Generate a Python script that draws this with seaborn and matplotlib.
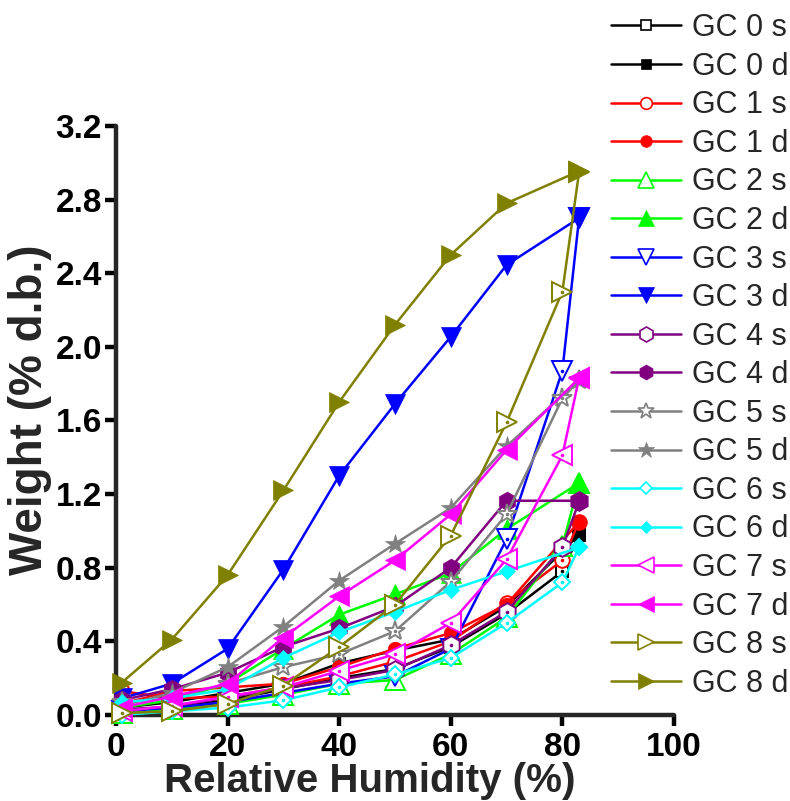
import matplotlib
matplotlib.use("Agg")
import matplotlib.pyplot as plt
import seaborn as sns
import pandas as pd
from matplotlib.lines import Line2D

# Relative humidity steps: sorption runs include an 80 % step, desorption starts at the top
rh_s = [1, 10, 20, 30, 40, 50, 60, 70, 80, 83]
rh_d = [1, 10, 20, 30, 40, 50, 60, 70, 83]

gc0_s = [0.01, 0.04, 0.08, 0.14, 0.20, 0.25, 0.37, 0.55, 0.78, 0.98]
gc0_d = [0.04, 0.07, 0.12, 0.17, 0.28, 0.35, 0.41, 0.59, 0.98]
gc1_s = [0.13, 0.09, 0.10, 0.15, 0.21, 0.29, 0.40, 0.61, 0.84, 1.05]
gc1_d = [0.06, 0.13, 0.15, 0.17, 0.26, 0.36, 0.445, 0.60, 1.05]
gc2_s = [0.01, 0.03, 0.06, 0.11, 0.17, 0.19, 0.33, 0.53, 0.92, 1.26]
gc2_d = [0.04, 0.08, 0.17, 0.36, 0.545, 0.655, 0.77, 1.01, 1.26]
gc3_s = [0.02, 0.04, 0.07, 0.12, 0.17, 0.21, 0.36, 0.955, 1.87, 2.70]
gc3_d = [0.09, 0.17, 0.36, 0.79, 1.30, 1.69, 2.055, 2.445, 2.70]
gc4_s = [0.03, 0.045, 0.095, 0.145, 0.19, 0.245, 0.38, 0.56, 0.91, 1.16]
gc4_d = [0.08, 0.14, 0.23, 0.37, 0.47, 0.59, 0.80, 1.164, 1.164]
gc5_s = [0.07, 0.09, 0.17, 0.26, 0.33, 0.455, 0.725, 1.09, 1.72, 1.82]
gc5_d = [0.05, 0.12, 0.26, 0.48, 0.73, 0.93, 1.125, 1.46, 1.82]
gc6_s = [0.00, 0.02, 0.04, 0.08, 0.15, 0.22, 0.31, 0.50, 0.72, 0.91]
gc6_d = [0.07, 0.09, 0.14, 0.31, 0.45, 0.56, 0.68, 0.78, 0.91]
gc7_s = [0.02, 0.05, 0.10, 0.15, 0.24, 0.33, 0.50, 0.845, 1.41, 1.83]
gc7_d = [0.04, 0.10, 0.17, 0.42, 0.645, 0.84, 1.09, 1.44, 1.83]
gc8_s = [0.01, 0.02, 0.06, 0.16, 0.37, 0.60, 0.975, 1.59, 2.30, 2.95]
gc8_d = [0.175, 0.41, 0.76, 1.22, 1.70, 2.12, 2.50, 2.78, 2.955]

series_names = ["GC 0 s", "GC 0 d", "GC 1 s", "GC 1 d", "GC 2 s", "GC 2 d",
                "GC 3 s", "GC 3 d", "GC 4 s", "GC 4 d", "GC 5 s", "GC 5 d",
                "GC 6 s", "GC 6 d", "GC 7 s", "GC 7 d", "GC 8 s", "GC 8 d"]
series_values = [gc0_s, gc0_d, gc1_s, gc1_d, gc2_s, gc2_d, gc3_s, gc3_d,
                 gc4_s, gc4_d, gc5_s, gc5_d, gc6_s, gc6_d, gc7_s, gc7_d,
                 gc8_s, gc8_d]

x_ticks = [0, 20, 40, 60, 80, 100]
y_ticks = [0.0, 0.4, 0.8, 1.2, 1.6, 2.0, 2.4, 2.8, 3.2]

colors = ["#000000", "#FF0000", "#00FF00", "#0000FF", "#800080",
          "#808080", "#00FFFF", "#FF00FF", "#808000"]
markers = ["s", "o", "^", "v", "h", "*", "D", "<", ">"]
msizes = [9, 10.5, 14, 14, 13.5, 15, 8, 14, 14]

sns.set_theme(style="ticks")
plt.rcParams["font.family"] = ["Liberation Sans", "DejaVu Sans"]

fig = plt.figure(figsize=(7.9, 8.01), dpi=100)
ax = fig.add_axes([0.1468, 0.1074, 0.7063, 0.7353])

frames = []
for name, vals in zip(series_names, series_values):
    xs = rh_s if name.endswith("s") else rh_d
    frames.append(pd.DataFrame({"rh": xs, "w": vals, "series": name}))
df = pd.concat(frames, ignore_index=True)

handles = []
for i, name in enumerate(series_names):
    g = i // 2
    is_open = name.endswith("s")
    c = colors[g]
    sub = df[df["series"] == name]
    sns.lineplot(data=sub, x="rh", y="w", ax=ax, estimator=None, sort=False,
                 color=c, linewidth=1.8, marker=markers[g], markersize=msizes[g],
                 markerfacecolor="white" if is_open else c,
                 markeredgecolor=c, markeredgewidth=1.4 if is_open else 0.5,
                 clip_on=False, zorder=3 + i * 0.01, legend=False)
    if is_open:
        ax.plot(sub["rh"], sub["w"], linestyle="none", marker="o",
                markersize=1.6, color=c, clip_on=False, zorder=3 + i * 0.01)
    handles.append(Line2D([], [], color=c, linewidth=1.8, marker=markers[g],
                          markersize=msizes[g] * 0.8,
                          markerfacecolor="white" if is_open else c,
                          markeredgecolor=c,
                          markeredgewidth=1.2 if is_open else 0.5))

ax.set_xlim(0, 100)
ax.set_ylim(0, 3.2)
ax.set_xticks(x_ticks)
ax.set_xticklabels([str(t) for t in x_ticks])
ax.set_yticks(y_ticks)
ax.set_yticklabels([f"{t:.1f}" for t in y_ticks])
for s in ["top", "right"]:
    ax.spines[s].set_visible(False)
for s in ["left", "bottom"]:
    ax.spines[s].set_linewidth(3.2)
    ax.spines[s].set_capstyle("round")
ax.tick_params(axis="both", direction="out", length=8, width=3.2,
               labelsize=24, colors="black")
ax.tick_params(axis="x", pad=4)
ax.tick_params(axis="y", pad=2)
for lbl in ax.get_xticklabels() + ax.get_yticklabels():
    lbl.set_fontweight("bold")
ax.set_xlabel("Relative Humidity (%)", fontsize=29, fontweight="bold")
ax.set_ylabel("Weight (% d.b.)", fontsize=33, fontweight="bold")
ax.xaxis.label.set_va("baseline")
ax.xaxis.set_label_coords(0.454, -0.1307)
ax.yaxis.set_label_coords(-0.115, 0.518)
ax.set_facecolor("white")

fig.legend(handles, series_names, loc="upper left",
           bbox_to_anchor=(0.762, 0.995), frameon=False, fontsize=22,
           handlelength=2.3, handletextpad=0.33, labelspacing=0.28,
           borderaxespad=0.0, borderpad=0.3)

fig.savefig("out.png", dpi=100, facecolor="white")
